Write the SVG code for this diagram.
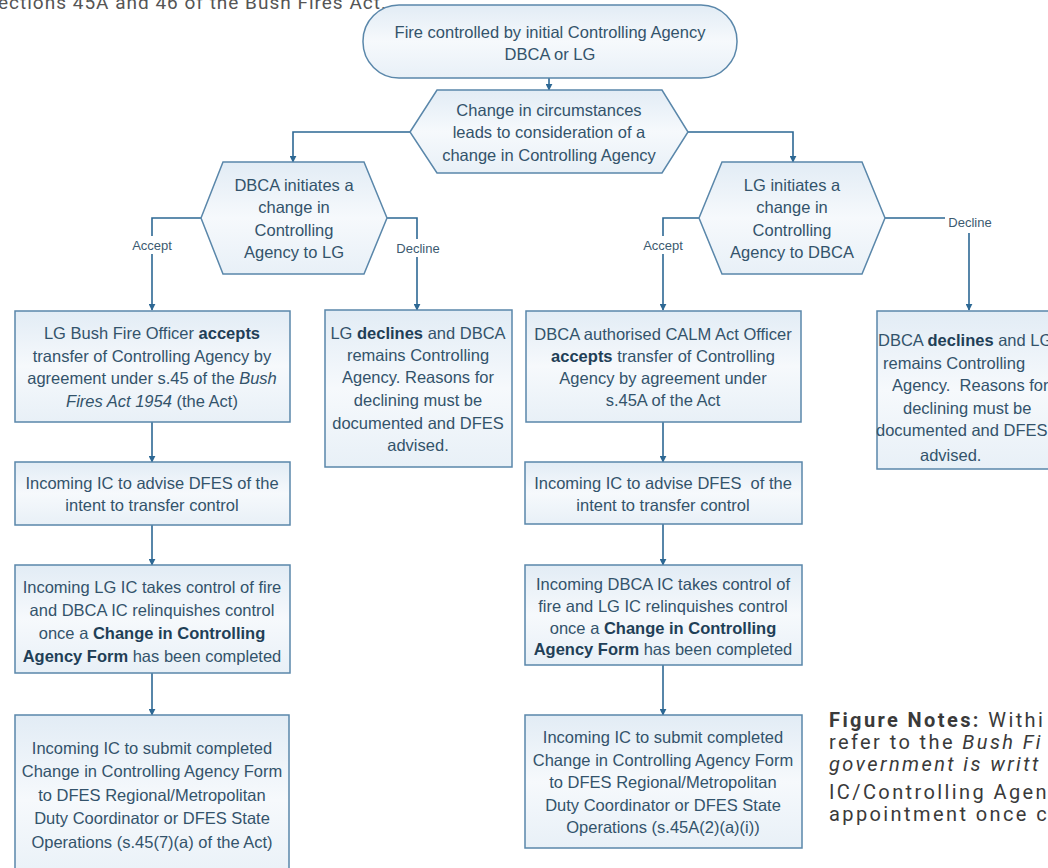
<svg xmlns="http://www.w3.org/2000/svg" width="1048" height="868" viewBox="0 0 1048 868">
<style>
.t{font-family:"Liberation Sans",Arial,sans-serif;font-size:16.5px;fill:#33536b;text-anchor:middle}
.s{text-anchor:start}
.b{font-weight:bold;fill:#1f3f57}
.i{font-style:italic}
.shape{fill:url(#g);stroke:#5a87aa;stroke-width:1.5}
.c{fill:none;stroke:#2d6894;stroke-width:1.6}
.lbl{font-family:"Liberation Sans",Arial,sans-serif;font-size:13px;fill:#3c5a70;text-anchor:middle}
.note{font-family:Roboto,"Liberation Sans",sans-serif;font-size:20px;fill:#3a3a3a;letter-spacing:2.4px}
</style>
<defs>
<linearGradient id="g" x1="0" y1="0" x2="0" y2="1">
<stop offset="0" stop-color="#e2ecf5"/>
<stop offset="0.5" stop-color="#f6f9fc"/>
<stop offset="1" stop-color="#e8f0f7"/>
</linearGradient>
<marker id="a" viewBox="0 0 10 10" refX="9" refY="5" markerWidth="7" markerHeight="7" markerUnits="userSpaceOnUse" orient="auto">
<path d="M0,0 L10,5 L0,10 z" fill="#2d6894"/>
</marker>
</defs>
<rect width="1048" height="868" fill="#ffffff"/>
<text x="-2" y="9" font-family="Roboto,Liberation Sans,sans-serif" font-size="19" letter-spacing="1" fill="#555">ections 45A and 46 of the Bush Fires Act.</text>

<g id="connectors">
<path class="c" d="M549,78 V90" marker-end="url(#a)"/>
<path class="c" d="M410,132 H293 V162" marker-end="url(#a)"/>
<path class="c" d="M688,132 H793 V162" marker-end="url(#a)"/>
<path class="c" d="M201,218 H152 V310" marker-end="url(#a)"/>
<path class="c" d="M387,218 H417 V310" marker-end="url(#a)"/>
<path class="c" d="M699,218 H663 V310" marker-end="url(#a)"/>
<path class="c" d="M885,218 H969 V310" marker-end="url(#a)"/>
<path class="c" d="M152,422 V462" marker-end="url(#a)"/>
<path class="c" d="M152,525 V565" marker-end="url(#a)"/>
<path class="c" d="M152,673 V715" marker-end="url(#a)"/>
<path class="c" d="M663,422 V462" marker-end="url(#a)"/>
<path class="c" d="M663,524 V565" marker-end="url(#a)"/>
<path class="c" d="M663,665 V715" marker-end="url(#a)"/>
<rect x="128" y="236" width="48" height="18" fill="#fff"/>
<text class="lbl" x="152" y="250">Accept</text>
<rect x="393" y="239" width="50" height="18" fill="#fff"/>
<text class="lbl" x="418" y="253">Decline</text>
<rect x="639" y="236" width="48" height="18" fill="#fff"/>
<text class="lbl" x="663" y="250">Accept</text>
<rect x="945" y="214" width="50" height="19" fill="#fff"/>
<text class="lbl" x="970" y="227">Decline</text>
</g>

<g id="start">
<rect class="shape" x="363" y="5" width="374" height="73" rx="36" ry="36"/>
<text class="t" x="550" y="38">Fire controlled by initial Controlling Agency</text>
<text class="t" x="550" y="60">DBCA or LG</text>
</g>

<g id="change">
<polygon class="shape" points="410,132 437,90 662,90 688,132 662,173 437,173"/>
<text class="t" x="549" y="116">Change in circumstances</text>
<text class="t" x="549" y="138">leads to consideration of a</text>
<text class="t" x="549" y="161">change in Controlling Agency</text>
</g>

<g id="dbca-init">
<polygon class="shape" points="201,218 223,162 364,162 387,218 364,274 223,274"/>
<text class="t" x="294" y="191">DBCA initiates a</text>
<text class="t" x="294" y="213">change in</text>
<text class="t" x="294" y="236">Controlling</text>
<text class="t" x="294" y="258">Agency to LG</text>
</g>

<g id="lg-init">
<polygon class="shape" points="699,218 722,162 862,162 885,218 862,274 722,274"/>
<text class="t" x="792" y="191">LG initiates a</text>
<text class="t" x="792" y="213">change in</text>
<text class="t" x="792" y="236">Controlling</text>
<text class="t" x="792" y="258">Agency to DBCA</text>
</g>

<g id="lg-accepts">
<rect class="shape" x="15" y="311" width="275" height="111"/>
<text class="t" x="152" y="339">LG Bush Fire Officer <tspan class="b">accepts</tspan></text>
<text class="t" x="152" y="362">transfer of Controlling Agency by</text>
<text class="t" x="152" y="384">agreement under s.45 of the <tspan class="i">Bush</tspan></text>
<text class="t" x="152" y="407"><tspan class="i">Fires Act 1954</tspan> (the Act)</text>
</g>

<g id="lg-declines">
<rect class="shape" x="325" y="310" width="187" height="157"/>
<text class="t" x="418" y="339">LG <tspan class="b">declines</tspan> and DBCA</text>
<text class="t" x="418" y="361">remains Controlling</text>
<text class="t" x="418" y="383">Agency. Reasons for</text>
<text class="t" x="418" y="406">declining must be</text>
<text class="t" x="418" y="429">documented and DFES</text>
<text class="t" x="418" y="451">advised.</text>
</g>

<g id="dbca-accepts">
<rect class="shape" x="526" y="311" width="275" height="111"/>
<text class="t" x="663" y="340">DBCA authorised CALM Act Officer</text>
<text class="t" x="663" y="362"><tspan class="b">accepts</tspan> transfer of Controlling</text>
<text class="t" x="663" y="384">Agency by agreement under</text>
<text class="t" x="663" y="406">s.45A of the Act</text>
</g>

<g id="dbca-declines">
<rect class="shape" x="877" y="311" width="200" height="158"/>
<text class="t s" x="878" y="346">DBCA <tspan class="b">declines</tspan> and LG</text>
<text class="t s" x="883" y="369">remains Controlling</text>
<text class="t s" x="892" y="391" xml:space="preserve">Agency.  Reasons for</text>
<text class="t s" x="903" y="414">declining must be</text>
<text class="t s" x="876" y="436">documented and DFES</text>
<text class="t s" x="920" y="461">advised.</text>
</g>

<g id="left-advise">
<rect class="shape" x="15" y="462" width="275" height="63"/>
<text class="t" x="152" y="489">Incoming IC to advise DFES of the</text>
<text class="t" x="152" y="511">intent to transfer control</text>
</g>

<g id="left-control">
<rect class="shape" x="15" y="565" width="275" height="108"/>
<text class="t" x="152" y="593">Incoming LG IC takes control of fire</text>
<text class="t" x="152" y="616">and DBCA IC relinquishes control</text>
<text class="t" x="152" y="639">once a <tspan class="b">Change in Controlling</tspan></text>
<text class="t" x="152" y="662"><tspan class="b">Agency Form</tspan> has been completed</text>
</g>

<g id="left-submit">
<rect class="shape" x="15" y="715" width="274" height="170"/>
<text class="t" x="152" y="754">Incoming IC to submit completed</text>
<text class="t" x="152" y="777">Change in Controlling Agency Form</text>
<text class="t" x="152" y="801">to DFES Regional/Metropolitan</text>
<text class="t" x="152" y="824">Duty Coordinator or DFES State</text>
<text class="t" x="152" y="848">Operations (s.45(7)(a) of the Act)</text>
</g>

<g id="mid-advise">
<rect class="shape" x="525" y="462" width="277" height="62"/>
<text class="t" x="663" y="489" xml:space="preserve">Incoming IC to advise DFES  of the</text>
<text class="t" x="663" y="511">intent to transfer control</text>
</g>

<g id="mid-control">
<rect class="shape" x="525" y="565" width="277" height="100"/>
<text class="t" x="663" y="590">Incoming DBCA IC takes control of</text>
<text class="t" x="663" y="612">fire and LG IC relinquishes control</text>
<text class="t" x="663" y="634">once a <tspan class="b">Change in Controlling</tspan></text>
<text class="t" x="663" y="655"><tspan class="b">Agency Form</tspan> has been completed</text>
</g>

<g id="mid-submit">
<rect class="shape" x="525" y="715" width="277" height="133"/>
<text class="t" x="663" y="743">Incoming IC to submit completed</text>
<text class="t" x="663" y="766">Change in Controlling Agency Form</text>
<text class="t" x="663" y="788">to DFES Regional/Metropolitan</text>
<text class="t" x="663" y="811">Duty Coordinator or DFES State</text>
<text class="t" x="663" y="833">Operations (s.45A(2)(a)(i))</text>
</g>

<g id="notes">
<text class="note" x="829" y="727"><tspan font-weight="bold">Figure Notes:</tspan> Withi</text>
<text class="note" x="829" y="749">refer to the <tspan font-style="italic">Bush Fi</tspan></text>
<text class="note" x="829" y="771" font-style="italic">government is writt</text>
<text class="note" x="829" y="799">IC/Controlling Agen</text>
<text class="note" x="829" y="821">appointment once c</text>
</g>
</svg>
